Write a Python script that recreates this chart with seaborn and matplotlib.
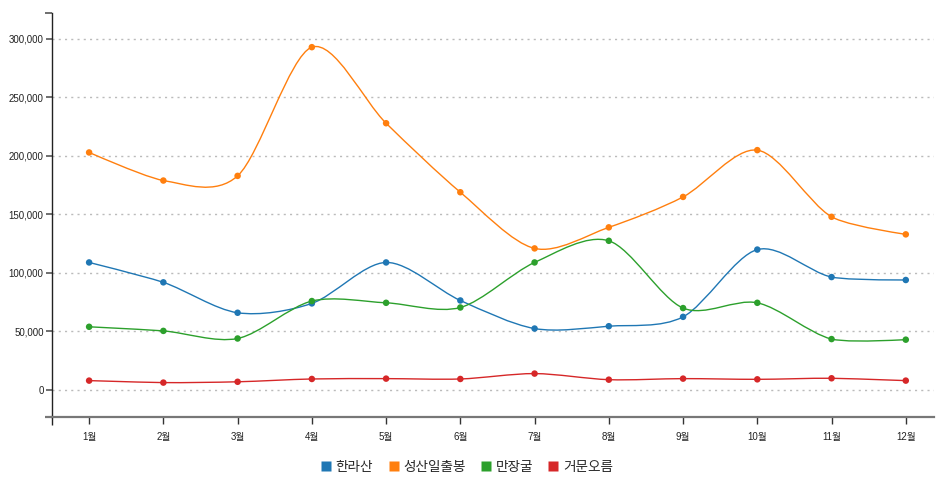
import numpy as np
import pandas as pd
import matplotlib
matplotlib.use("Agg")
import matplotlib.pyplot as plt
from matplotlib.path import Path
from matplotlib.patches import PathPatch
from matplotlib.ticker import FuncFormatter
from matplotlib.lines import Line2D
import seaborn as sns

# Monthly visitors to Jeju sights
months = ["1월", "2월", "3월", "4월", "5월", "6월", "7월", "8월", "9월", "10월", "11월", "12월"]
hallasan = [109000, 92000, 66000, 74000, 109000, 76500, 52500, 54500, 62500, 120000, 96500, 94000]
seongsan = [203000, 179000, 183000, 293000, 228000, 169000, 121000, 139000, 165000, 205000, 148000, 133000]
manjanggul = [54000, 50500, 44000, 76000, 74500, 70500, 109000, 127500, 70000, 74500, 43500, 43000]
geomunoreum = [8000, 6300, 7000, 9400, 9700, 9400, 14000, 8800, 9700, 9100, 10000, 8000]

series_names = ["한라산", "성산일출봉", "만장굴", "거문오름"]
series_values = [hallasan, seongsan, manjanggul, geomunoreum]
colors = ["#1f77b4", "#ff7f0e", "#2ca02c", "#d62728"]
y_ticks = [0, 50000, 100000, 150000, 200000, 250000, 300000]

df = pd.DataFrame({
    "pos": np.tile(np.arange(len(months)), len(series_names)),
    "value": np.concatenate(series_values),
    "site": np.repeat(series_names, len(months)),
})

sns.set_theme(style="white")
plt.rcParams["font.family"] = ["Liberation Sans", "Noto Sans CJK KR", "DejaVu Sans"]

fig = plt.figure(figsize=(9.36, 4.8), dpi=100)
ax = fig.add_axes([52 / 936, 1 - 417 / 480, (934 - 52) / 936, (417 - 13) / 480])


def cardinal_path(xs, ys, tension=0.7):
    """Cardinal spline (d3 style) through the points, as a Bezier path."""
    pts = np.column_stack([xs, ys]).astype(float)
    a = (1 - tension) / 2
    tangents = [a * (pts[i + 1] - pts[i - 1]) for i in range(1, len(pts) - 1)]
    verts = [pts[0]]
    codes = [Path.MOVETO]
    # first segment: quadratic
    verts += [pts[1] - tangents[0] * 2 / 3, pts[1]]
    codes += [Path.CURVE3, Path.CURVE3]
    for i in range(1, len(tangents)):
        p0, p1 = pts[i], pts[i + 1]
        verts += [p0 + tangents[i - 1], p1 - tangents[i], p1]
        codes += [Path.CURVE4] * 3
    # last segment: quadratic
    verts += [pts[-2] + tangents[-1] * 2 / 3, pts[-1]]
    codes += [Path.CURVE3, Path.CURVE3]
    return Path(np.array(verts), codes)


xpos = np.arange(len(months))
for name, vals, col in zip(series_names, series_values, colors):
    ax.add_patch(PathPatch(cardinal_path(xpos, vals), facecolor="none",
                           edgecolor=col, lw=1.0, zorder=3))

sns.scatterplot(data=df, x="pos", y="value", hue="site", palette=colors,
                hue_order=series_names, s=22, edgecolor="none", legend=False,
                ax=ax, zorder=4)

ax.set_xlim(-0.5, 11.38)
ax.set_ylim(-23100, 322200)
ax.set_xticks(xpos)
ax.set_xticklabels(months)
ax.set_yticks(y_ticks)
ax.yaxis.set_major_formatter(FuncFormatter(lambda v, p: f"{int(v):,}"))
ax.set_xlabel("")
ax.set_ylabel("")

for yv in y_ticks:
    ax.axhline(yv, color="#bbbbbb", lw=1.0, dashes=(1.5, 3), zorder=1)

for side in ["top", "right"]:
    ax.spines[side].set_visible(False)
ax.spines["left"].set_color("#222222")
ax.spines["bottom"].set_color("#777777")
ax.spines["left"].set_linewidth(1.0)
ax.spines["bottom"].set_linewidth(1.6)

# outer ticks at the ends of the axis domains
ax_w = 882.0
ax_h = 404.0
ax.plot([-7 / ax_w, 0], [1, 1], transform=ax.transAxes, color="#555555",
        lw=1.2, clip_on=False, solid_capstyle="butt")
ax.plot([-7 / ax_w, 0], [0, 0], transform=ax.transAxes, color="#777777",
        lw=1.6, clip_on=False, solid_capstyle="butt")
ax.plot([0, 0], [0, -8 / ax_h], transform=ax.transAxes, color="#222222",
        lw=1.0, clip_on=False, solid_capstyle="butt")

ax.tick_params(axis="y", direction="out", length=4.5, width=1.2, color="#555555",
               labelsize=7, labelcolor="#222222", pad=1.5, left=True)
ax.tick_params(axis="x", direction="out", length=5, width=1.0, color="#333333",
               labelsize=7, labelcolor="#222222", pad=5.5, bottom=True)

handles = [Line2D([], [], marker="s", linestyle="none", markersize=7.5,
                  markerfacecolor=c, markeredgecolor="none") for c in colors]
fig.legend(handles, series_names, loc="center", bbox_to_anchor=(0.498, 1 - 467 / 480),
           ncol=4, frameon=False, fontsize=9.8, handletextpad=0.2, columnspacing=1.0,
           handlelength=1.0)

fig.savefig("out.png", dpi=100, facecolor="white")
